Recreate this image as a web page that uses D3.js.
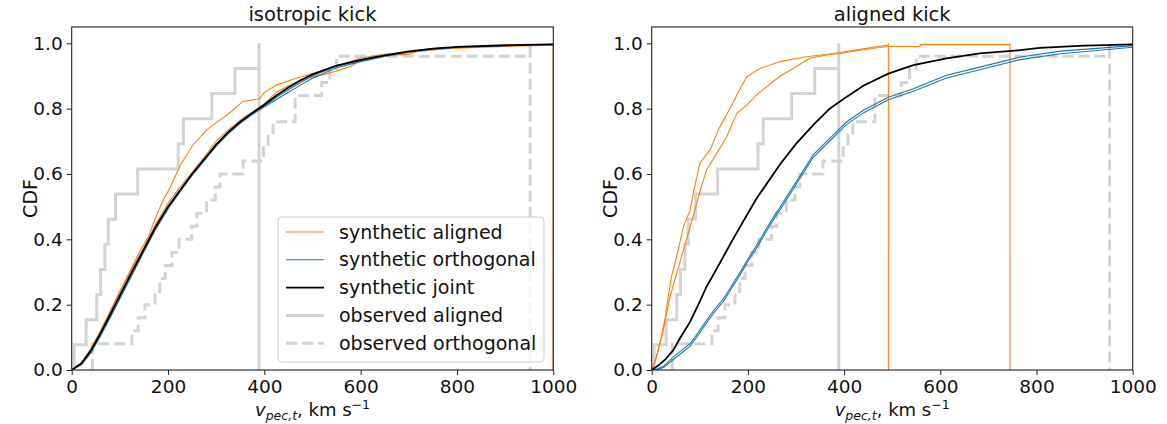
<!DOCTYPE html>
<html>
<head>
<meta charset="utf-8">
<script src="https://cdn.jsdelivr.net/npm/d3@7"></script>
<style>
  body { margin: 0; background: #fff; }
  svg { display: block; font-family: "DejaVu Sans", sans-serif; }
</style>
</head>
<body>
<svg id="chart" width="1167" height="424"></svg>
<script>
// ---- data ----
const xTicks = [0, 200, 400, 600, 800, 1000];
const yTicks = [0, 0.2, 0.4, 0.6, 0.8, 1.0];

// observed samples (km/s), drawn as cumulative step histograms
const obsAligned = [5, 30, 52, 60, 69, 76, 91, 137, 221, 232, 291, 339, 389];
const obsOrthogonal = [43, 43, 125, 138, 152, 173, 183, 194, 208, 223, 249, 260, 280,
  298, 308, 356, 398, 408, 418, 464, 464, 519, 536, 550, 952];

// isotropic kick panel
const isoJoint = [[0,0],[20,0.02],[40,0.06],[60,0.113],[80,0.17],[100,0.228],[125,0.3],[150,0.37],
  [175,0.44],[200,0.5],[225,0.55],[250,0.6],[275,0.645],[300,0.69],[325,0.728],[350,0.76],[375,0.787],
  [400,0.812],[425,0.84],[450,0.865],[475,0.887],[500,0.905],[550,0.932],[600,0.949],[650,0.963],
  [700,0.975],[750,0.984],[800,0.989],[900,0.994],[1000,0.997]];
const isoOrthoA = [[0,0],[20,0.015],[40,0.052],[60,0.104],[80,0.16],[100,0.218],[125,0.29],[150,0.362],
  [175,0.432],[200,0.493],[225,0.545],[250,0.596],[275,0.64],[300,0.685],[325,0.723],[350,0.755],
  [375,0.782],[400,0.805],[425,0.828],[450,0.85],[475,0.872],[500,0.893],[550,0.925],[600,0.944],
  [650,0.96],[700,0.973],[750,0.982],[800,0.988],[900,0.993],[1000,0.996]];
const isoOrthoB = [[0,0],[20,0.018],[40,0.056],[60,0.108],[80,0.165],[100,0.222],[125,0.295],[150,0.366],
  [175,0.436],[200,0.497],[225,0.548],[250,0.598],[275,0.643],[300,0.688],[325,0.726],[350,0.758],
  [375,0.785],[400,0.808],[425,0.835],[450,0.858],[475,0.88],[500,0.9],[550,0.93],[600,0.947],
  [650,0.962],[700,0.974],[750,0.983],[800,0.988],[900,0.993],[1000,0.997]];
const isoAlignedA = [[0,0],[20,0.022],[40,0.065],[60,0.12],[80,0.18],[100,0.24],[125,0.31],[150,0.375],
  [175,0.448],[200,0.51],[225,0.56],[250,0.605],[275,0.652],[300,0.7],[325,0.735],[350,0.765],[375,0.79],
  [400,0.815],[425,0.85],[450,0.87],[475,0.885],[500,0.898],[525,0.905],[550,0.915],[580,0.93],
  [600,0.948],[650,0.963],[700,0.966],[720,0.978],[800,0.985],[900,0.99],[1000,0.995]];
const isoAlignedB = [[0,0],[20,0.022],[40,0.065],[60,0.12],[80,0.18],[100,0.24],[120,0.3],[140,0.36],
  [160,0.41],[175,0.47],[190,0.52],[205,0.56],[225,0.625],[250,0.685],[280,0.735],[310,0.767],
  [335,0.795],[355,0.822],[390,0.83],[400,0.85],[425,0.872],[460,0.89],[495,0.905],[550,0.93],
  [600,0.955],[650,0.966],[700,0.972],[800,0.987],[900,0.992],[1000,0.997]];

// aligned kick panel
const alJoint = [[0,0],[15,0.015],[30,0.035],[45,0.061],[60,0.1],[80,0.148],[97,0.2],[114,0.255],
  [130,0.296],[149,0.347],[165,0.39],[184,0.439],[200,0.48],[218,0.525],[240,0.572],[267,0.63],
  [300,0.692],[336,0.75],[370,0.8],[405,0.836],[440,0.87],[492,0.907],[544,0.933],[613,0.954],
  [682,0.969],[766,0.979],[807,0.986],[900,0.993],[1000,0.997]];
const alOrthoA = [[0,0],[10,0.002],[25,0.012],[45,0.04],[62,0.06],[80,0.081],[97,0.115],[114,0.152],
  [130,0.184],[149,0.218],[165,0.255],[184,0.3],[200,0.34],[218,0.381],[235,0.424],[253,0.468],
  [267,0.499],[300,0.575],[336,0.659],[370,0.709],[405,0.759],[440,0.795],[492,0.835],[544,0.861],
  [613,0.902],[682,0.927],[766,0.958],[850,0.976],[1000,0.993]];
const alOrthoB = [[0,0],[10,0.001],[25,0.008],[45,0.032],[62,0.052],[80,0.073],[97,0.107],[114,0.144],
  [130,0.176],[149,0.21],[165,0.247],[184,0.292],[200,0.332],[218,0.373],[235,0.416],[253,0.46],
  [267,0.491],[300,0.567],[336,0.651],[370,0.701],[405,0.751],[440,0.787],[492,0.827],[544,0.853],
  [613,0.894],[682,0.919],[766,0.95],[850,0.968],[1000,0.988]];
const alAlignedA = [[0,0],[8,0.03],[17,0.082],[28,0.158],[35,0.23],[41,0.286],[52,0.347],[66,0.439],
  [80,0.49],[87,0.545],[100,0.633],[121,0.673],[142,0.745],[163,0.801],[184,0.862],[198,0.898],
  [225,0.923],[267,0.944],[322,0.959],[378,0.969],[426,0.98],[470,0.99],[492,0.995],[492,1.0]];
const alAlignedB = [[0,0],[10,0.04],[24,0.122],[38,0.224],[52,0.296],[66,0.367],[80,0.439],[90,0.49],
  [102,0.555],[114,0.612],[135,0.663],[156,0.714],[177,0.786],[198,0.811],[218,0.842],[239,0.867],
  [267,0.9],[294,0.923],[329,0.954],[364,0.964],[391,0.969],[430,0.978],[461,0.985],[492,0.99],
  [558,0.99],[558,0.996],[745,0.996],[745,1.0]];

const legendLabels = ["synthetic aligned", "synthetic orthogonal", "synthetic joint",
  "observed aligned", "observed orthogonal"];

// ---- styles ----
const ORANGE = "#ff7f0e", BLUE = "#1f77b4", GREY = "#d3d3d3";

const svg = d3.select("#chart");

function StepPoints(values) {
  // cumulative step outline like matplotlib hist(histtype='step', cumulative=True)
  const v = values.slice().sort((a, b) => a - b);
  const n = v.length;
  let pts = [[v[0], 0]];
  v.forEach((d, i) => {
    pts.push([d, i / n]);
    pts.push([d, (i + 1) / n]);
  });
  pts.push([v[n - 1], 0]);
  return pts;
}

function DrawPanel(opts) {
  const x = d3.scaleLinear().domain([0, 1000]).range([opts.left, opts.right]);
  const y = d3.scaleLinear().domain([0, 1.05]).range([370, 26.97]);
  const g = svg.append("g");

  const clipId = "clip" + opts.id;
  g.append("clipPath").attr("id", clipId)
    .append("rect")
    .attr("x", opts.left).attr("y", 26.97)
    .attr("width", opts.right - opts.left).attr("height", 370 - 26.97);

  const line = d3.line().x(d => x(d[0])).y(d => y(d[1]));
  const plot = g.append("g").attr("clip-path", `url(#${clipId})`);

  // observed
  plot.append("path").attr("d", line(StepPoints(obsAligned)))
    .attr("fill", "none").attr("stroke", GREY).attr("stroke-width", 3);
  plot.append("path").attr("d", line(StepPoints(obsOrthogonal)))
    .attr("fill", "none").attr("stroke", GREY).attr("stroke-width", 3)
    .attr("stroke-dasharray", "11,5");

  // synthetic aligned (orange) - these drop back to zero at their last sample
  opts.aligned.forEach(s => {
    const last = s[s.length - 1];
    plot.append("path").attr("d", line(s.concat([[last[0], 0]])))
      .attr("fill", "none").attr("stroke", ORANGE).attr("stroke-width", 1.1);
  });
  opts.ortho.forEach(s => {
    plot.append("path").attr("d", line(s))
      .attr("fill", "none").attr("stroke", BLUE).attr("stroke-width", 1.1);
  });
  plot.append("path").attr("d", line(opts.joint))
    .attr("fill", "none").attr("stroke", "black").attr("stroke-width", 1.8);

  // axes
  const xAxis = g.append("g").attr("transform", "translate(0,370)")
    .call(d3.axisBottom(x).tickValues(xTicks).tickSize(5).tickPadding(5).tickFormat(d3.format("d")));
  const yAxis = g.append("g").attr("transform", `translate(${opts.left},0)`)
    .call(d3.axisLeft(y).tickValues(yTicks).tickSize(5).tickPadding(4).tickFormat(d3.format(".1f")));
  [xAxis, yAxis].forEach(a => {
    a.select(".domain").remove();
    a.selectAll("line").attr("stroke", "#222").attr("stroke-width", 1);
    a.selectAll("text").attr("font-size", 18.5).attr("fill", "#111")
      .attr("font-family", "DejaVu Sans, sans-serif");
  });

  // frame
  g.append("rect")
    .attr("x", opts.left).attr("y", 26.97)
    .attr("width", opts.right - opts.left).attr("height", 370 - 26.97)
    .attr("fill", "none").attr("stroke", "#222").attr("stroke-width", 1.1);

  // title
  g.append("text").attr("x", (opts.left + opts.right) / 2).attr("y", 21)
    .attr("text-anchor", "middle").attr("font-size", 19.5).attr("fill", "#111")
    .text(opts.title);

  // x label
  const xl = g.append("text").attr("x", (opts.left + opts.right) / 2).attr("y", 416)
    .attr("text-anchor", "middle").attr("font-size", 18).attr("fill", "#111");
  xl.append("tspan").attr("font-style", "italic").text("v");
  xl.append("tspan").attr("font-style", "italic").attr("font-size", 12.5).attr("dy", 4).text("pec,t");
  xl.append("tspan").attr("dy", -4).text(", km s");
  xl.append("tspan").attr("font-size", 12.5).attr("dy", -7).text("\u22121");

  // y label
  g.append("text")
    .attr("transform", `translate(${opts.left - 35},${(370 + 26.97) / 2}) rotate(-90)`)
    .attr("text-anchor", "middle").attr("font-size", 19).attr("fill", "#111")
    .text("CDF");

  return { x, y, g };
}

DrawPanel({ id: 1, left: 71.7, right: 553.3, title: "isotropic kick",
  joint: isoJoint, ortho: [isoOrthoA, isoOrthoB], aligned: [isoAlignedA, isoAlignedB] });
DrawPanel({ id: 2, left: 651.7, right: 1132.7, title: "aligned kick",
  joint: alJoint, ortho: [alOrthoA, alOrthoB], aligned: [alAlignedA, alAlignedB] });

// legend (left panel)
const leg = svg.append("g").attr("transform", "translate(278,217)");
leg.append("rect").attr("width", 266).attr("height", 145).attr("rx", 4)
  .attr("fill", "white").attr("fill-opacity", 0.8)
  .attr("stroke", "#cccccc").attr("stroke-width", 1);
const legStyles = [
  { stroke: ORANGE, width: 1.1, dash: null },
  { stroke: BLUE, width: 1.1, dash: null },
  { stroke: "black", width: 1.8, dash: null },
  { stroke: GREY, width: 3, dash: null },
  { stroke: GREY, width: 3, dash: "11,5" }
];
legendLabels.forEach((lab, i) => {
  const yy = 15 + i * 27.8;
  const st = legStyles[i];
  leg.append("line").attr("x1", 8).attr("x2", 46).attr("y1", yy).attr("y2", yy)
    .attr("stroke", st.stroke).attr("stroke-width", st.width)
    .attr("stroke-dasharray", st.dash);
  leg.append("text").attr("x", 61).attr("y", yy).attr("dy", "0.35em")
    .attr("font-size", 19).attr("fill", "#111").text(lab);
});
</script>
</body>
</html>
